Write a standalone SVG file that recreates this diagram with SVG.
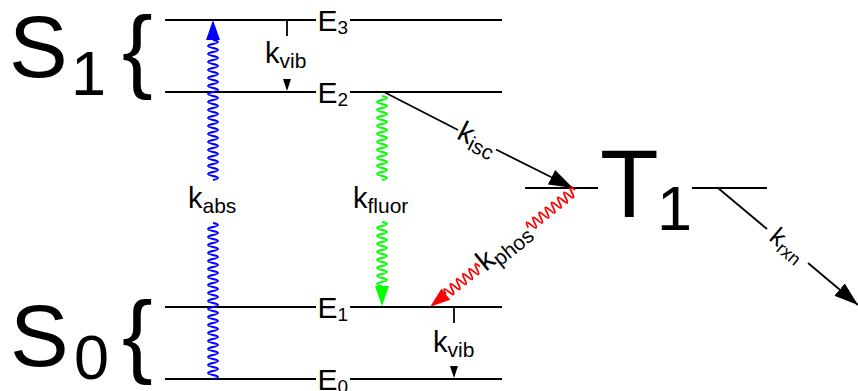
<svg xmlns="http://www.w3.org/2000/svg" width="858" height="391" viewBox="0 0 858 391">
<style>
text{font-family:"Liberation Sans",Arial,sans-serif;fill:#000}
.lvl{stroke:#000;stroke-width:2;fill:none}
.big{font-size:88px}
.bsub{font-size:63px}
.brace{font-size:92px}
.e{font-size:30px}
.es{font-size:19px}
.k{font-size:29px}
.ks{font-size:21px}
.wv{fill:none;stroke-width:1.8}
.blue{stroke:#0000ff}
.green{stroke:#00ff00}
.red{stroke:#ff0000}
.conn{stroke:#000;stroke-width:1.8;fill:none}
</style>
<defs>
<marker id="ah" markerUnits="userSpaceOnUse" markerWidth="24" markerHeight="16" refX="24" refY="8" orient="auto">
<path d="M0,0 L24,8 L0,16 z" fill="#000"/>
</marker>
</defs>

<g id="S1">
<text class="big" x="9" y="77">S</text>
<text class="bsub" x="71" y="95">1</text>
<text class="brace" x="122" y="81">{</text>
</g>
<g id="S0">
<text class="big" x="10" y="366">S</text>
<text class="bsub" x="74" y="379">0</text>
<text class="brace" x="122" y="366">{</text>
</g>

<g id="E3">
<line class="lvl" x1="165" y1="20" x2="316" y2="20"/>
<line class="lvl" x1="350" y1="20" x2="502" y2="20"/>
<text class="e" x="317.5" y="30.5">E<tspan class="es" dy="3.5">3</tspan></text>
</g>
<g id="E2">
<line class="lvl" x1="165" y1="92" x2="316" y2="92"/>
<line class="lvl" x1="350" y1="92" x2="502" y2="92"/>
<text class="e" x="317.5" y="102.5">E<tspan class="es" dy="3.5">2</tspan></text>
</g>
<g id="E1">
<line class="lvl" x1="165" y1="307" x2="316" y2="307"/>
<line class="lvl" x1="350" y1="307" x2="502" y2="307"/>
<text class="e" x="317.5" y="317.5">E<tspan class="es" dy="3.5">1</tspan></text>
</g>
<g id="E0">
<line class="lvl" x1="165" y1="379" x2="316" y2="379"/>
<line class="lvl" x1="350" y1="379" x2="502" y2="379"/>
<text class="e" x="317.5" y="389.5">E<tspan class="es" dy="3.5">0</tspan></text>
</g>

<g id="T1">
<line class="lvl" x1="525" y1="188" x2="598" y2="188"/>
<line class="lvl" x1="692" y1="188" x2="767" y2="188"/>
<text x="600" y="217" style="font-size:96px">T</text>
<text class="bsub" x="657" y="230">1</text>
</g>

<g id="connectors">
<g id="abs">
<path class="wv blue" d="M213,379 q10,-2 0,-4 t0,-4 t0,-4 t0,-4 t0,-4 t0,-4 t0,-4 t0,-4 t0,-4 t0,-4 t0,-4 t0,-4 t0,-4 t0,-4 t0,-4 t0,-4 t0,-4 t0,-4 t0,-4 t0,-4 t0,-4 t0,-4 t0,-4 t0,-4 t0,-4 t0,-4 t0,-4 t0,-4 t0,-4 t0,-4 t0,-4 t0,-4 t0,-4 t0,-4 t0,-4 t0,-4 t0,-4 t0,-4 t0,-4"/>
<path class="wv blue" d="M213,180 q10,-2 0,-4 t0,-4 t0,-4 t0,-4 t0,-4 t0,-4 t0,-4 t0,-4 t0,-4 t0,-4 t0,-4 t0,-4 t0,-4 t0,-4 t0,-4 t0,-4 t0,-4 t0,-4 t0,-4 t0,-4 t0,-4 t0,-4 t0,-4 t0,-4 t0,-4 t0,-4 t0,-4 t0,-4 t0,-4 t0,-4 t0,-4 t0,-4 t0,-4 t0,-4 t0,-4"/>
<polygon points="213,20 206,40 220,40" fill="#0000ff"/>
<text class="k" x="188" y="208">k<tspan class="ks" dy="5">abs</tspan></text>
</g>
<g id="fluor">
<path class="wv green" d="M382,96 q10,2 0,4 t0,4 t0,4 t0,4 t0,4 t0,4 t0,4 t0,4 t0,4 t0,4 t0,4 t0,4 t0,4 t0,4 t0,4 t0,4 t0,4 t0,4 t0,4 t0,4 t0,4"/>
<path class="wv green" d="M382,222 q10,2 0,4 t0,4 t0,4 t0,4 t0,4 t0,4 t0,4 t0,4 t0,4 t0,4 t0,4 t0,4 t0,4 t0,4 t0,4 t0,4"/>
<polygon points="375,286 389,286 382,306" fill="#00ff00"/>
<text class="k" x="353" y="208">k<tspan class="ks" dy="5">fluor</tspan></text>
</g>
<g id="vib-upper">
<line class="conn" x1="287" y1="20" x2="287" y2="36"/>
<polygon points="283,79 291,79 287,91" fill="#000"/>
<text class="k" x="265" y="63">k<tspan class="ks" dy="5">vib</tspan></text>
</g>
<g id="vib-lower">
<line class="conn" x1="454" y1="307" x2="454" y2="323"/>
<polygon points="450,366 458,366 454,378" fill="#000"/>
<text class="k" x="433" y="352">k<tspan class="ks" dy="5">vib</tspan></text>
</g>
<g id="isc">
<line class="conn" x1="384" y1="92" x2="458" y2="130"/>
<line class="conn" x1="496" y1="149.5" x2="573" y2="188" marker-end="url(#ah)"/>
<text class="k" x="477" y="148" text-anchor="middle" transform="rotate(26.9 477 140)">k<tspan class="ks" dy="5">isc</tspan></text>
</g>
<g id="phos">
<g transform="translate(575,190) rotate(141.1)">
<path class="wv red" d="M0,0 q2,10 4,0 t4,0 t4,0 t4,0 t4,0 t4,0 t4,0 t4,0 t4,0 t4,0 t4,0 t4,0 t4,0 t4,0 t4,0"/>
<path class="wv red" d="M122,0 q2,10 4,0 t4,0 t4,0 t4,0 t4,0 t4,0 t4,0 t4,0 t4,0 t4,0 t4,0"/>
<polygon points="166,-7 166,7 186,0" fill="#ff0000"/>
</g>
<text class="k" x="504" y="255" text-anchor="middle" transform="rotate(-38.9 504 247)">k<tspan class="ks" dy="5">phos</tspan></text>
</g>
<g id="rxn">
<line class="conn" x1="718" y1="188" x2="767" y2="229"/>
<line class="conn" x1="808" y1="263" x2="858" y2="305" marker-end="url(#ah)"/>
<text x="787" y="253" text-anchor="middle" transform="rotate(39.9 787 246)" style="font-size:25px">k<tspan style="font-size:18px" dy="4">rxn</tspan></text>
</g>
</g>
</svg>
